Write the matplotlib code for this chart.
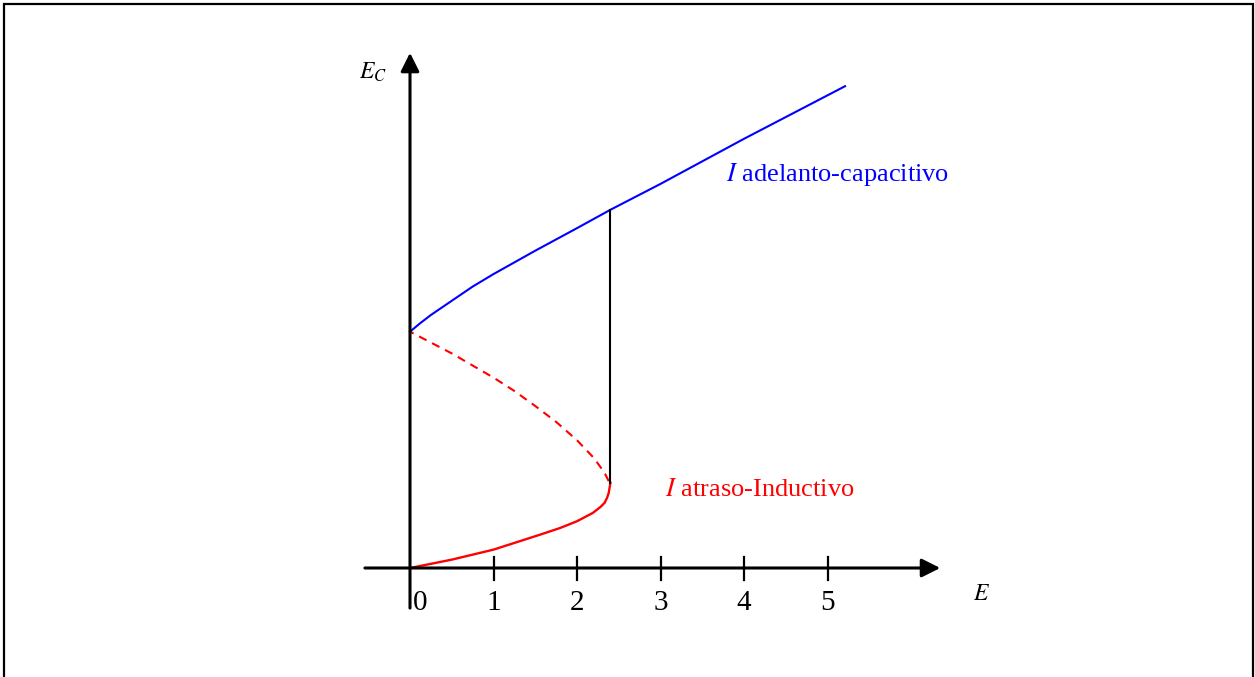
import matplotlib.pyplot as plt
from matplotlib.patches import Rectangle

plt.rcParams["font.family"] = ["Liberation Serif", "DejaVu Serif"]
plt.rcParams["mathtext.fontset"] = "stix"

# Capacitive branch (leading current)
cap_x = [0, 0.12, 0.25, 0.5, 0.75, 1.0, 1.5, 2.0, 2.4, 3.0, 4.0, 5.21]
cap_y = [2.83, 2.93, 3.03, 3.20, 3.37, 3.52, 3.80, 4.07, 4.29, 4.60, 5.14, 5.77]

# Inductive branch (lagging current), stable part
ind_x = [0, 0.5, 1.0, 1.56, 1.8, 2.0, 2.19, 2.28, 2.33, 2.36, 2.38, 2.39, 2.40]
ind_y = [0, 0.10, 0.22, 0.40, 0.48, 0.56, 0.66, 0.73, 0.78, 0.84, 0.90, 0.96, 1.02]

# Inductive branch, unstable part (dashed)
uns_x = [2.38, 2.34, 2.28, 2.2, 2.0, 1.75, 1.5, 1.25, 1.0, 0.5, 0]
uns_y = [1.04, 1.12, 1.21, 1.32, 1.53, 1.75, 1.94, 2.12, 2.28, 2.57, 2.83]

# Jump at the turning point
jump_x = 2.40
jump_y = [1.02, 4.29]

tick_vals = [1, 2, 3, 4, 5]
tick_labels = ["0", "1", "2", "3", "4", "5"]

fig = plt.figure(figsize=(12.55, 6.77), dpi=100)
ax = fig.add_axes([0, 0, 1, 1])
ax.set_xlim(-410 / 83.5, (1255 - 410) / 83.5)
ax.set_ylim(-109 / 83.5, 568 / 83.5)
ax.axis("off")

# Outer frame
fig.patches.append(Rectangle((4 / 1255, -0.05), 1249 / 1255, 1.05 - 4 / 677,
                             transform=fig.transFigure, fill=False,
                             edgecolor="black", linewidth=1.6))

# Axes with arrow heads
arrow = dict(arrowstyle="-|>", lw=2.2, color="black", mutation_scale=28,
             shrinkA=0, shrinkB=0)
ax.annotate("", xy=(6.35, 0), xytext=(-0.54, 0), arrowprops=arrow)
ax.annotate("", xy=(0, 6.17), xytext=(0, -0.48), arrowprops=arrow)

for t in tick_vals:
    ax.plot([t, t], [-0.14, 0.13], color="black", lw=1.6)

label_x = [0.12] + tick_vals
for lx, lab in zip(label_x, tick_labels):
    ax.text(lx, -0.42, lab, fontsize=21, ha="center", va="center")

ax.text(6.85, -0.32, "$E$", fontsize=17, ha="center", va="center")
ax.text(-0.45, 5.94, "$E_C$", fontsize=17, ha="center", va="center")

ax.plot(cap_x, cap_y, color="blue", lw=1.5)
ax.plot(ind_x, ind_y, color="red", lw=1.7)
ax.plot(uns_x, uns_y, color="red", lw=1.5, linestyle=(0, (4, 3)))
ax.plot([jump_x, jump_x], jump_y, color="black", lw=1.5)

ax.text(3.79, 4.71, "$I$ adelanto-capacitivo", fontsize=19, color="blue",
        ha="left", va="center")
ax.text(3.05, 0.93, "$I$ atraso-Inductivo", fontsize=19, color="red",
        ha="left", va="center")

fig.savefig("out.png", dpi=100)
